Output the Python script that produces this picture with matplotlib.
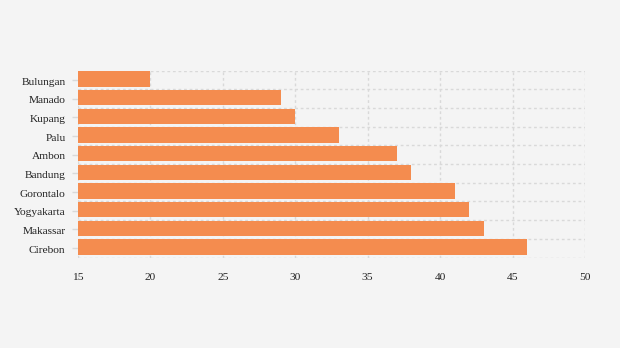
import matplotlib
matplotlib.use("Agg")
import matplotlib.pyplot as plt
import matplotlib.transforms as mtransforms
import numpy as np

cities = ["Bulungan", "Manado", "Kupang", "Palu", "Ambon", "Bandung",
          "Gorontalo", "Yogyakarta", "Makassar", "Cirebon"]
values = [20, 29, 30, 33, 37, 38, 41, 42, 43, 46]
x_ticks = [15, 20, 25, 30, 35, 40, 45, 50]

bg = "#f4f4f4"
bar_color = "#f48c4f"
grid_color = "#d9d9d9"

plt.rcParams["font.family"] = ["Liberation Serif", "DejaVu Serif"]

fig = plt.figure(figsize=(6.2, 3.48), dpi=100, facecolor=bg)
ax = fig.add_axes([78 / 620, 1 - 257.5 / 348, (585 - 78) / 620, (257.5 - 70.8) / 348])
ax.set_facecolor(bg)

y = np.arange(len(cities))
# bars hang from the top edge of each band
ax.barh(y - 0.47, np.array(values) - x_ticks[0], left=x_ticks[0], height=0.82,
        align="edge", color=bar_color, zorder=2)

ax.set_xlim(x_ticks[0], x_ticks[-1])
ax.set_ylim(len(cities) - 0.5, -0.5)
ax.set_xticks(x_ticks)
ax.set_xticklabels([str(t) for t in x_ticks])
ax.set_yticks(y)
ax.set_yticklabels(cities)
ax.set_yticks(np.arange(len(cities) + 1) - 0.5, minor=True)

ax.grid(axis="x", which="major", color=grid_color, linestyle=(0, (2, 2)), linewidth=1, zorder=1)
ax.grid(axis="y", which="minor", color=grid_color, linestyle=(0, (2, 2)), linewidth=1, zorder=1)
ax.grid(axis="y", which="major", visible=False)

for s in ax.spines.values():
    s.set_visible(False)
ax.tick_params(axis="both", which="both", length=0, labelsize=8.2, colors="#222222")
ax.tick_params(axis="x", pad=11.5)
ax.tick_params(axis="y", which="major", length=4, width=1, color=grid_color,
               labelcolor="#222222", pad=5)

# nudge the category labels down a pixel
shift = mtransforms.ScaledTranslation(0, -1 / 100, fig.dpi_scale_trans)
for lab in ax.get_yticklabels():
    lab.set_transform(lab.get_transform() + shift)

fig.savefig("out.png", dpi=100, facecolor=bg)
